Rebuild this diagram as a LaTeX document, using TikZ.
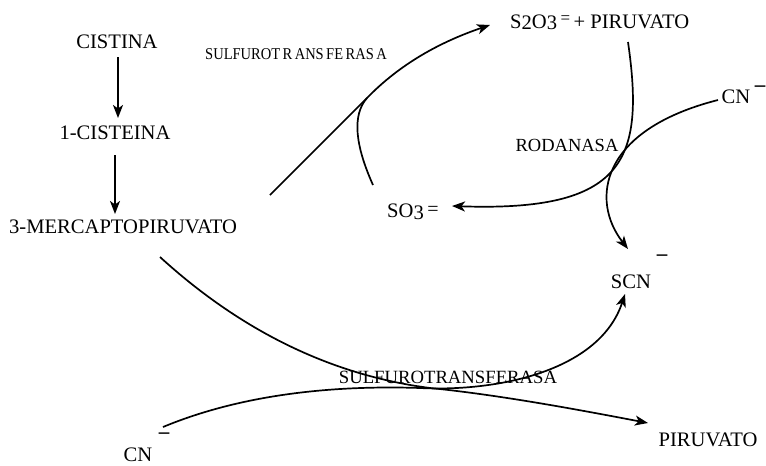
\documentclass[tikz,border=0pt]{standalone}
\usepackage{fontspec}
\setmainfont{Liberation Serif}
\usetikzlibrary{arrows.meta}
\begin{document}
\begin{tikzpicture}[x=1pt,y=-1pt,
  lbl/.style={inner sep=0pt,font=\fontsize{20.6}{23}\selectfont},
  enz/.style={inner sep=0pt,font=\fontsize{18.7}{21}\selectfont},
  chg/.style={inner sep=0pt,font=\fontsize{21}{23}\selectfont\bfseries},
  link/.style={line width=1.7pt},
  rxn/.style={link,-{Stealth[length=13pt,width=10pt,inset=3.5pt]}}]
\useasboundingbox (0,0) rectangle (766,466);

% metabolites
\node[lbl] (cist) at (117,42) {CISTINA};
\node[lbl] (cisteina) at (115,133) {1-CISTEINA};
\node[lbl] (merc) at (123,227) {3-MERCAPTOPIRUVATO};
\node[lbl,anchor=base west] (s2o3) at (510,28)
  {S\raisebox{-1.5pt}{2}O\raisebox{-1.5pt}{3}\,\raisebox{5pt}{\fontsize{17}{18}\selectfont =}\,+ PIRUVATO};
\node[lbl,anchor=base west] (so3) at (387,217)
  {SO\raisebox{-2pt}{3}\,\raisebox{2pt}{\fontsize{20}{21}\selectfont =}};
\node[lbl] (cnA) at (736,97) {CN};
\node[chg] (cnAm) at (760,89) {–};
\node[lbl] (scn) at (631,282) {SCN};
\node[chg] (scnm) at (662,258) {–};
\node[lbl] (piru) at (708,440) {PIRUVATO};
\node[lbl] (cnB) at (138,455) {CN};
\node[chg] (cnBm) at (164,436) {–};

% enzymes
\node[inner sep=0pt,font=\fontsize{16.5}{18}\selectfont] (stA) at (296,54)
  {\scalebox{0.88}[1]{SULFUROT\,R\,ANS\,FE\,RAS\,A}};
\node[inner sep=0pt,font=\fontsize{18.5}{20}\selectfont] (rod) at (567,145) {RODANASA};
\node[enz] (stB) at (448,377) {SULFUROTRANSFERASA};

% end points of the curved connectors
\coordinate (m1) at (270,195);
\coordinate (join) at (367,98);
\coordinate (so3in) at (373,185);
\coordinate (s2tip) at (490,25);
\coordinate (s2out) at (628,42);
\coordinate (so3tip) at (452,206);
\coordinate (cnAout) at (718,100);
\coordinate (scntipA) at (628,249);
\coordinate (m2) at (160,257);
\coordinate (mid1) at (430,388);
\coordinate (pirutip) at (648,423);
\coordinate (cnBout) at (163,427);
\coordinate (mid2) at (420,388);
\coordinate (scntipB) at (625,294);

% first steps
\draw[rxn] (cist) ++(1,15) -- ++(0,61);
\draw[rxn] (cisteina) ++(0,22) -- ++(0,59);

% 3-mercaptopiruvato + sulfito -> tiosulfato + piruvato
\draw[link] (m1) -- (join);
\draw[rxn] (so3in) .. controls (355,145) and (352,115) .. (join)
  .. controls (400,64) and (440,42) .. (s2tip);

% rodanasa
\draw[rxn] (s2out) .. controls (645,160) and (625,212) .. (so3tip);
\draw[rxn] (cnAout) .. controls (600,130) and (590,200) .. (scntipA);

% lower sulfurotransferasa
\draw[rxn] (m2) .. controls (240,330) and (330,375) .. (mid1)
  .. controls (500,395) and (580,410) .. (pirutip);
\draw[rxn] (cnBout) .. controls (240,395) and (330,385) .. (mid2)
  .. controls (500,392) and (600,370) .. (scntipB);
\end{tikzpicture}
\end{document}
